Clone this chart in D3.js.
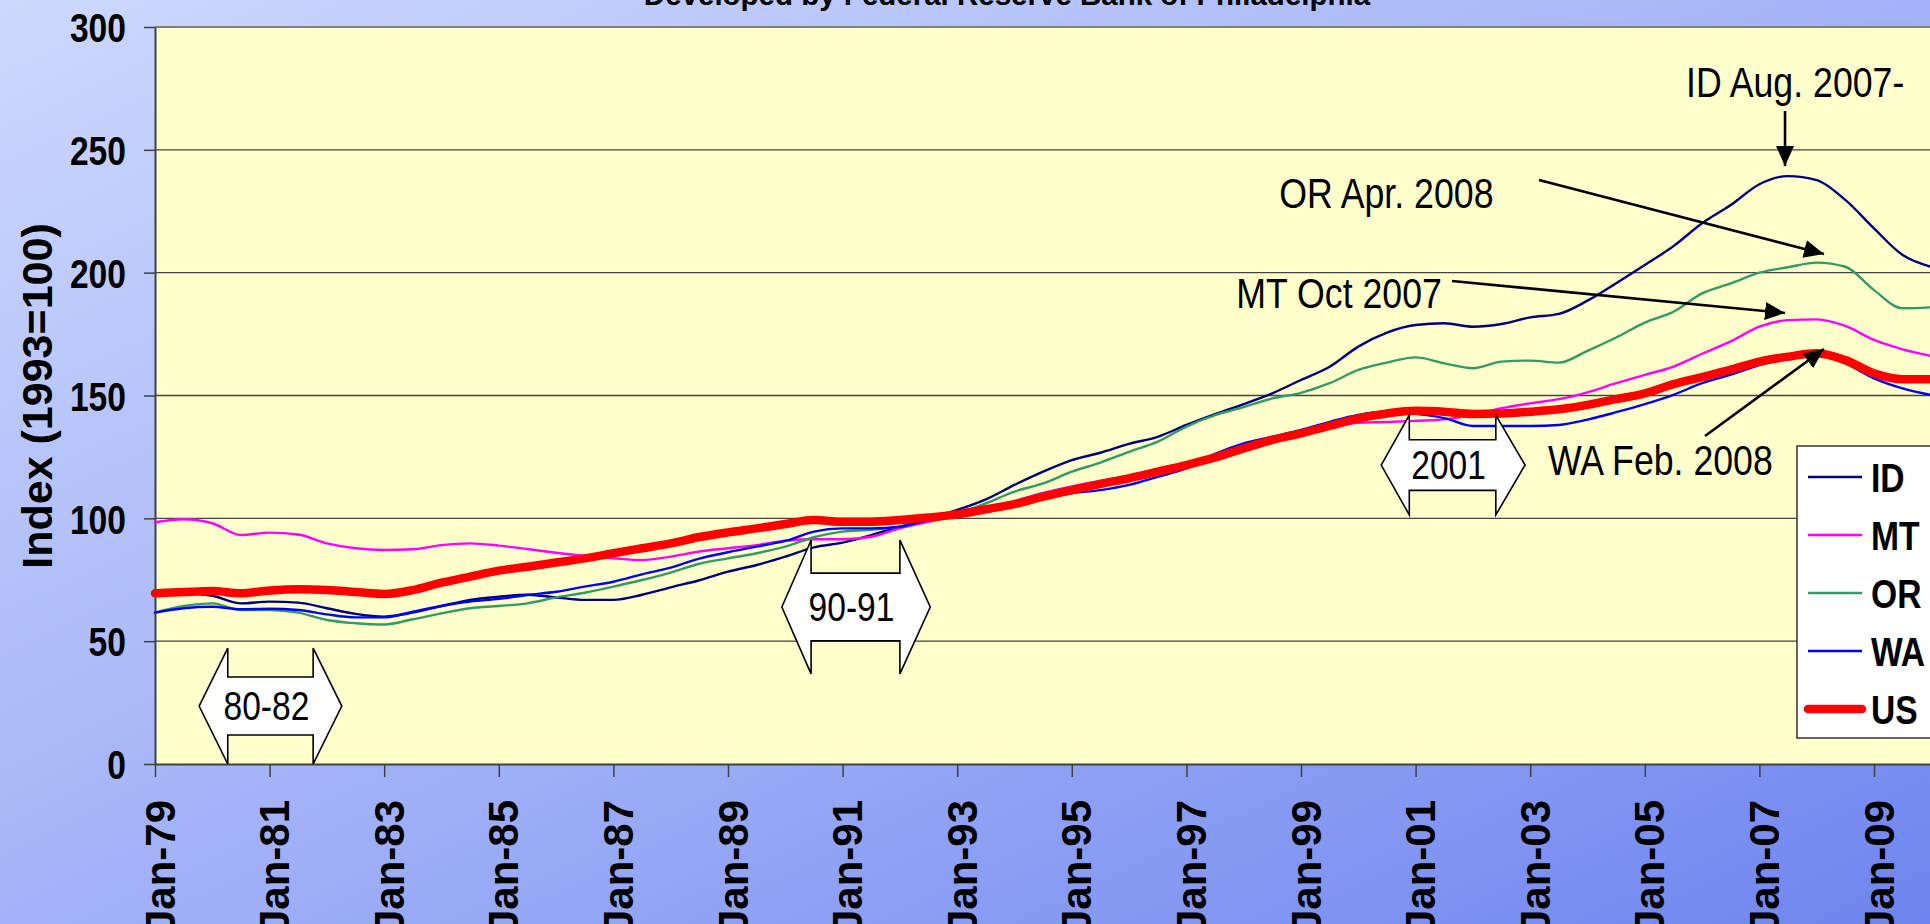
<!DOCTYPE html>
<html><head><meta charset="utf-8">
<script src="https://cdn.jsdelivr.net/npm/d3@7"></script>
<style>
html,body{margin:0;padding:0;overflow:hidden;background:#fff}
svg{display:block}
</style></head><body>
<svg id="chart" width="1930" height="924"></svg>
<script>
// ---------------- data ----------------
const halfYears = [1979.0,1979.5,1980.0,1980.5,1981.0,1981.5,1982.0,1982.5,1983.0,1983.5,
  1984.0,1984.5,1985.0,1985.5,1986.0,1986.5,1987.0,1987.5,1988.0,1988.5,
  1989.0,1989.5,1990.0,1990.5,1991.0,1991.5,1992.0,1992.5,1993.0,1993.5,
  1994.0,1994.5,1995.0,1995.5,1996.0,1996.5,1997.0,1997.5,1998.0,1998.5,
  1999.0,1999.5,2000.0,2000.5,2001.0,2001.5,2002.0,2002.5,2003.0,2003.5,
  2004.0,2004.5,2005.0,2005.5,2006.0,2006.5,2007.0,2007.5,2008.0,2008.5,
  2009.0,2009.5,2010.0];

const ID = [69.0,69.5,68.5,65.4,66.1,65.7,63.4,61.1,60.0,61.6, 64.3,66.8,68.1,68.9,67.8,66.8,66.8,68.9,71.9,74.8,
  78.3,81.0,84.4,88.2,90.1,93.2,96.6,100.0,103.4,107.7, 113.6,119.0,123.7,126.7,130.3,133.2,138.0,142.4,146.5,150.9,
  156.3,161.7,169.9,175.6,178.7,179.4,178.0,179.1,181.8,183.2, 188.6,195.7,203.1,210.8,220.1,227.5,236.0,239.3,237.7,229.6,
  218.0,207.2,202.4];
const MT = [98.4,99.6,98.0,93.2,94.2,93.4,89.8,87.8,87.1,87.4, 89.1,89.8,88.9,87.5,86.0,84.7,83.7,83.0,84.4,86.5,
  87.8,89.1,90.9,91.5,91.5,92.5,95.9,98.6,101.3,104.0, 107.0,110.3,113.0,115.2,117.4,120.0,122.7,125.2,129.0,132.5,
  134.8,137.0,138.9,139.2,139.7,140.3,142.1,144.8,146.8,148.5, 151.3,155.0,158.4,161.8,167.0,172.0,178.0,180.7,181.0,178.3,
  172.6,168.8,166.1];
const OR = [61.6,64.3,65.4,62.7,62.7,61.6,58.6,57.3,56.8,58.9, 61.3,63.4,64.3,65.4,67.8,69.7,72.2,74.9,77.9,81.5,
  83.7,85.8,88.5,92.3,94.6,95.3,96.6,99.3,102.0,106.1, 110.9,114.2,119.0,122.7,127.1,131.2,137.3,142.0,145.3,148.8,
  151.1,155.0,160.4,163.4,165.5,163.1,161.1,163.8,164.2,163.4, 168.2,173.6,179.7,184.1,191.6,195.6,200.0,202.2,204.1,202.4,
  192.9,185.5,185.9];
const WA = [61.6,63.4,64.0,63.0,63.2,62.7,60.9,59.7,59.7,62.0, 64.3,66.1,67.2,68.8,70.1,72.2,74.2,77.2,79.9,83.6,
  86.2,88.5,90.8,94.6,95.9,95.9,96.6,99.3,101.6,103.1, 105.8,108.1,110.2,111.5,113.6,116.9,120.3,126.2,130.5,133.2,
  136.0,139.3,142.1,143.4,142.5,140.8,137.6,137.6,137.6,138.0, 140.2,143.2,146.5,150.3,155.0,158.5,162.4,165.1,166.5,163.1,
  157.0,152.9,150.2];
const US = [69.5,70.0,70.4,69.5,70.6,71.1,70.8,70.0,69.2,70.8, 73.8,76.3,78.7,80.3,82.0,83.7,85.8,87.8,89.8,92.4,
  94.3,95.9,97.7,99.3,98.6,98.6,99.3,100.3,101.6,103.7, 105.8,108.8,111.5,114.0,116.3,119.0,121.7,124.8,128.5,131.9,
  134.6,137.6,140.7,142.7,143.8,143.4,142.5,142.7,143.4,144.4, 146.2,148.5,150.9,154.6,157.5,160.5,163.8,165.8,167.2,164.4,
  159.0,156.6,156.6];

const seriesNames = ["ID","MT","OR","WA","US"];
const seriesValues = [ID, MT, OR, WA, US];
const seriesColors = ["#000080","#FF00FF","#339966","#0000FF","#FF0000"];
const seriesWidths = [2.4,2.4,2.4,2.4,8.5];

const yTicks = [0,50,100,150,200,250,300];
const xTickYears = [1979,1981,1983,1985,1987,1989,1991,1993,1995,1997,1999,2001,2003,2005,2007,2009];
const xTickLabels = ["Jan-79","Jan-81","Jan-83","Jan-85","Jan-87","Jan-89","Jan-91","Jan-93",
  "Jan-95","Jan-97","Jan-99","Jan-01","Jan-03","Jan-05","Jan-07","Jan-09"];

const titleText = "Developed by Federal Reserve Bank of Philadelphia";
const yTitle = "Index (1993=100)";

// recession block arrows, in data units (years, index)
const recessionLabels = ["80-82","90-91","2001"];
const recTipLeft  = [1979.77, 1989.94, 2000.40];
const recStemLeft = [1980.27, 1990.45, 2000.89];
const recStemRight= [1981.76, 1992.00, 2002.40];
const recTipRight = [1982.26, 1992.53, 2002.91];
const recMid      = [23.6, 63.9, 121.7];
const recStemHalf = [11.8, 13.8, 10.3];
const recHeadHalf = [23.6, 27.2, 20.3];

// peak annotations: text + arrow (data units)
const noteTexts = ["ID Aug. 2007-","OR Apr. 2008","MT Oct 2007","WA Feb. 2008"];
const noteTextYear = [2005.72, 1998.62, 1997.87, 2003.31];
const noteTextVal  = [271.5, 226.3, 185.6, 117.6];
const arrowFromYear = [2007.447, 2003.154, 2001.635, 2006.051];
const arrowFromVal  = [265.8, 237.7, 196.6, 133.5];
const arrowToYear   = [2007.447, 2008.127, 2007.447, 2008.127];
const arrowToVal    = [243.4, 207.6, 183.6, 168.9];

// ---------------- layout ----------------
const W = 1930, H = 924;
const plotL = 155, plotT = 27, plotB = 764;
const pxPerYear = 57.3;
const plotR = plotL + pxPerYear * 32;
const NX = 0.82; // horizontal compression emulating a narrow face

const svg = d3.select("#chart");
const font = "'Liberation Sans',Arial,sans-serif";

const defs = svg.append("defs");
const grad = defs.append("linearGradient").attr("id","bg")
  .attr("x1","0").attr("y1","0").attr("x2","1").attr("y2","1");
grad.append("stop").attr("offset","0%").attr("stop-color","#CDD8FD");
grad.append("stop").attr("offset","50%").attr("stop-color","#A4B3F7");
grad.append("stop").attr("offset","100%").attr("stop-color","#6E85EF");
defs.append("marker").attr("id","ah").attr("viewBox","0 0 20 18")
  .attr("markerUnits","userSpaceOnUse").attr("markerWidth",20).attr("markerHeight",18)
  .attr("refX",20).attr("refY",9).attr("orient","auto")
  .append("path").attr("d","M0,0 L20,9 L0,18 Z").attr("fill","#000");

svg.append("rect").attr("width",W).attr("height",H).attr("fill","url(#bg)");

const x = d3.scaleLinear().domain([1979, 2011]).range([plotL, plotR]);
const y = d3.scaleLinear().domain([0, 300]).range([plotB, plotT]);

// plot area
svg.append("rect").attr("x",plotL).attr("y",plotT).attr("width",plotR-plotL).attr("height",plotB-plotT)
  .attr("fill","#FFFFCC");

// gridlines
svg.append("g").selectAll("line").data(yTicks.filter(d=>d>0 && d<300)).join("line")
  .attr("x1",plotL).attr("x2",plotR).attr("y1",d=>y(d)).attr("y2",d=>y(d))
  .attr("stroke","#444").attr("stroke-width",1.3);
svg.append("line").attr("x1",plotL).attr("x2",plotR).attr("y1",y(300)).attr("y2",y(300))
  .attr("stroke","#808080").attr("stroke-width",2);

// title
svg.append("text").attr("x",1007).attr("y",5).attr("text-anchor","middle")
  .style("font-family",font).style("font-weight","bold").style("font-size","29.5px")
  .text(titleText);

// narrow text helper
function narrowText(g, X, Y, str, size, bold, anchor, sx){
  return g.append("text").attr("transform",`translate(${X},${Y}) scale(${sx||NX},1)`)
    .attr("text-anchor",anchor||"start")
    .style("font-family",font).style("font-weight",bold?"bold":"normal")
    .style("font-size",size+"px").text(str);
}

// y axis
const yAxis = svg.append("g").attr("transform",`translate(${plotL},0)`)
  .call(d3.axisLeft(y).tickValues(yTicks).tickSize(11).tickPadding(18).tickSizeOuter(0));
yAxis.select(".domain").attr("stroke","#404040").attr("stroke-width",2);
yAxis.selectAll(".tick line").attr("stroke","#404040").attr("stroke-width",1.5);
yAxis.selectAll("text").style("font-family",font).style("font-weight","bold")
  .style("font-size","41px").attr("fill","#000").attr("dy","0.36em")
  .attr("x", -29/NX).attr("transform",`scale(${NX},1)`);

svg.append("text").attr("transform",`translate(52,396) rotate(-90)`).attr("text-anchor","middle")
  .style("font-family",font).style("font-weight","bold").style("font-size","43px")
  .text(yTitle);

// x axis
const xAxis = svg.append("g").attr("transform",`translate(0,${plotB})`)
  .call(d3.axisBottom(x).tickValues(xTickYears).tickFormat((d,i)=>xTickLabels[i])
    .tickSize(13).tickSizeOuter(0));
xAxis.select(".domain").attr("stroke","#404040").attr("stroke-width",2);
xAxis.selectAll(".tick line").attr("stroke","#404040").attr("stroke-width",1.5);
xAxis.selectAll("text").style("font-family",font).style("font-weight","bold")
  .style("font-size","42px").attr("fill","#000")
  .attr("transform","rotate(-90)").attr("text-anchor","end")
  .attr("x",-36).attr("y",19).attr("dy",null);

// series lines
const line = d3.line().x((d,i)=>x(halfYears[i])).y(d=>y(d)).curve(d3.curveMonotoneX);
svg.append("g").selectAll("path").data(seriesValues).join("path")
  .attr("d",d=>line(d)).attr("fill","none")
  .attr("stroke",(d,i)=>seriesColors[i]).attr("stroke-width",(d,i)=>seriesWidths[i])
  .attr("stroke-linejoin","round").attr("stroke-linecap","round");

// recession block arrows
const recG = svg.append("g");
recessionLabels.forEach((lab,i)=>{
  const xl=x(recTipLeft[i]), xs=x(recStemLeft[i]), xe=x(recStemRight[i]), xr=x(recTipRight[i]);
  const ym=y(recMid[i]);
  const hs = y(0)-y(recStemHalf[i]), hh = y(0)-y(recHeadHalf[i]);
  const pts = [[xl,ym],[xs,ym-hh],[xs,ym-hs],[xe,ym-hs],[xe,ym-hh],[xr,ym],[xe,ym+hh],[xe,ym+hs],[xs,ym+hs],[xs,ym+hh]];
  recG.append("path").attr("d","M"+pts.map(p=>p.join(",")).join("L")+"Z")
    .attr("fill","#fff").attr("stroke","#000").attr("stroke-width",1.6).attr("stroke-linejoin","miter");
  narrowText(recG, (xs+xe)/2 - 4, ym + 13.5, lab, 40, false, "middle", 0.84);
});

// annotations
const noteG = svg.append("g");
noteTexts.forEach((t,i)=>{
  narrowText(noteG, x(noteTextYear[i]), y(noteTextVal[i]), t, 42, false, "start", 0.85);
  noteG.append("line").attr("x1",x(arrowFromYear[i])).attr("y1",y(arrowFromVal[i]))
    .attr("x2",x(arrowToYear[i])).attr("y2",y(arrowToVal[i]))
    .attr("stroke","#000").attr("stroke-width",2.6).attr("marker-end","url(#ah)");
});

// legend
const lg = svg.append("g").attr("transform","translate(1797,446)");
lg.append("rect").attr("x",0).attr("y",0).attr("width",200).attr("height",292)
  .attr("fill","#fff").attr("stroke","#333").attr("stroke-width",1.5);
seriesNames.forEach((n,i)=>{
  const cy = 31 + i*58;
  lg.append("line").attr("x1",11).attr("x2",65).attr("y1",cy).attr("y2",cy)
    .attr("stroke",seriesColors[i]).attr("stroke-width",seriesWidths[i]).attr("stroke-linecap", i===4?"round":"butt");
  narrowText(lg, 74, cy+14.5, n, 41, true, "start");
});
</script>
</body></html>
